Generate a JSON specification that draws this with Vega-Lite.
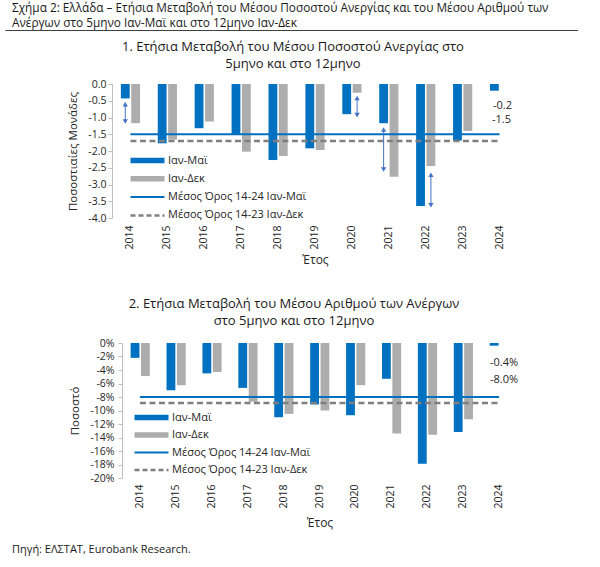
{
  "$schema": "https://vega.github.io/schema/vega-lite/v6.json",
  "background": "white",
  "padding": {"left": 5, "top": 0, "right": 0, "bottom": 0},
  "autosize": {"type": "pad"},
  "spacing": 0,
  "config": {
    "view": {"stroke": null},
    "font": "Open Sans",
    "axis": {"labelFont": "Open Sans", "titleFont": "Open Sans", "labelColor": "#262626", "titleColor": "#262626", "titleFontWeight": "normal", "grid": false},
    "title": {"font": "Open Sans"},
    "legend": {"labelFont": "Open Sans"},
    "text": {"font": "Open Sans"}
  },
  "resolve": {"scale": {"color": "independent"}, "legend": {"color": "independent"}},
  "vconcat": [
    {
      "width": 573, "height": 30,
      "data": {"values": [
        {"line": 1, "text": "Σχήμα 2: Ελλάδα – Ετήσια Μεταβολή του Μέσου Ποσοστού Ανεργίας και του Μέσου Αριθμού των"},
        {"line": 2, "text": "Ανέργων στο 5μηνο Ιαν-Μαϊ και στο 12μηνο Ιαν-Δεκ"}
      ]},
      "mark": {"type": "text", "align": "left", "baseline": "middle", "fontSize": 11.8, "color": "#1a1a1a"},
      "encoding": {
        "x": {"datum": 7, "type": "quantitative", "scale": {"domain": [0, 573]}, "axis": {"domain": true, "domainColor": "#404040", "domainWidth": 1.2, "ticks": false, "labels": false, "grid": false, "title": null}},
        "y": {"field": "line", "type": "ordinal", "axis": null, "scale": {"paddingInner": 0, "paddingOuter": 0}},
        "text": {"field": "text"}
      }
    },
    {"width": 1, "height": 11, "data": {"values": []}, "mark": "point"},
    {
      "spacing": 61,
      "resolve": {"scale": {"color": "independent"}, "legend": {"color": "independent"}},
      "hconcat": [
        {"width": 1, "height": 1, "data": {"values": []}, "mark": "point"},
        {
          "width": 406, "height": 134,
          "title": {"text": ["1. Ετήσια Μεταβολή του Μέσου Ποσοστού Ανεργίας στο", "5μηνο και στο 12μηνο"], "fontSize": 13, "fontWeight": "normal", "lineHeight": 17, "anchor": "middle", "frame": "bounds", "offset": 8, "color": "#1a1a1a"},
          "encoding": {
            "x": {"field": "year", "type": "nominal", "scale": {"domain": ["2014","2015","2016","2017","2018","2019","2020","2021","2022","2023","2024"], "paddingInner": 0.48, "paddingOuter": 0.24},
                  "axis": {"orient": "bottom", "domain": false, "ticks": false, "tickSize": 0, "labelAngle": -90, "labelPadding": 7, "labelFontSize": 10.5, "title": "Έτος", "titleFontSize": 12, "titlePadding": 5}},
            "y": {"type": "quantitative", "scale": {"domain": [-4, 0], "nice": false},
                  "axis": {"values": [-4, -3.5, -3, -2.5, -2, -1.5, -1, -0.5, 0], "labelExpr": "replace(format(datum.value, '.1f'), '−', '-')", "labelFontSize": 10.5, "labelPadding": 2, "tickSize": 4, "tickColor": "#bfbfbf", "domainColor": "#bfbfbf", "title": "Ποσοστιαίες Μονάδες", "titleFontSize": 11.5, "titlePadding": 9}}
          },
          "layer": [
            {
              "data": {"values": [
                {"year":"2014","series":"Ιαν-Μαϊ","value":-0.43},{"year":"2014","series":"Ιαν-Δεκ","value":-1.17},
                {"year":"2015","series":"Ιαν-Μαϊ","value":-1.77},{"year":"2015","series":"Ιαν-Δεκ","value":-1.66},
                {"year":"2016","series":"Ιαν-Μαϊ","value":-1.32},{"year":"2016","series":"Ιαν-Δεκ","value":-1.12},
                {"year":"2017","series":"Ιαν-Μαϊ","value":-1.52},{"year":"2017","series":"Ιαν-Δεκ","value":-2.02},
                {"year":"2018","series":"Ιαν-Μαϊ","value":-2.27},{"year":"2018","series":"Ιαν-Δεκ","value":-2.15},
                {"year":"2019","series":"Ιαν-Μαϊ","value":-1.92},{"year":"2019","series":"Ιαν-Δεκ","value":-1.97},
                {"year":"2020","series":"Ιαν-Μαϊ","value":-0.9},{"year":"2020","series":"Ιαν-Δεκ","value":-0.26},
                {"year":"2021","series":"Ιαν-Μαϊ","value":-1.17},{"year":"2021","series":"Ιαν-Δεκ","value":-2.77},
                {"year":"2022","series":"Ιαν-Μαϊ","value":-3.64},{"year":"2022","series":"Ιαν-Δεκ","value":-2.45},
                {"year":"2023","series":"Ιαν-Μαϊ","value":-1.69},{"year":"2023","series":"Ιαν-Δεκ","value":-1.4},
                {"year":"2024","series":"Ιαν-Μαϊ","value":-0.2}
              ]},
              "mark": {"type": "bar"},
              "encoding": {
                "xOffset": {"field": "series", "type": "nominal", "scale": {"domain": ["Ιαν-Μαϊ", "Ιαν-Δεκ"], "paddingInner": 0.15}},
                "y": {"field": "value"},
                "color": {"field": "series", "type": "nominal",
                  "scale": {"domain": ["Ιαν-Μαϊ", "Ιαν-Δεκ", "Μέσος Όρος 14-24 Ιαν-Μαϊ", "Μέσος Όρος 14-23 Ιαν-Δεκ"], "range": ["#0070c0", "#adadad", "#0070c0", "#7f7f7f"]},
                  "legend": {"orient": "none", "legendX": 18, "legendY": 71, "title": null, "labelFontSize": 11, "labelColor": "#262626", "symbolType": "M-1,0H5.8", "symbolSize": 100, "labelOffset": 27, "clipHeight": 11, "rowPadding": 6.3, "labelLimit": 400, "direction": "vertical",
                    "encode": {"symbols": {"update": {
                      "shape": {"value": "M-1,0H5.8"},
                      "fill": {"value": "transparent"},
                      "stroke": {"signal": "datum.value === 'Ιαν-Δεκ' ? '#adadad' : datum.value === 'Μέσος Όρος 14-23 Ιαν-Δεκ' ? '#7f7f7f' : '#0070c0'"},
                      "strokeWidth": {"signal": "(datum.value === 'Ιαν-Μαϊ' || datum.value === 'Ιαν-Δεκ') ? 5.5 : (datum.value === 'Μέσος Όρος 14-23 Ιαν-Δεκ' ? 2.5 : 2)"},
                      "strokeDash": {"signal": "datum.value === 'Μέσος Όρος 14-23 Ιαν-Δεκ' ? [5, 3] : [1, 0]"},
                      "opacity": {"value": 1}
                    }}}}
                }
              }
            },
            {
              "data": {"values": [{"base": 0}]},
              "mark": {"type": "rule", "color": "#bfbfbf", "strokeWidth": 1},
              "encoding": {"y": {"field": "base"}}
            },
            {
              "data": {"values": [
                {"year": "2014", "series": "Μέσος Όρος 14-24 Ιαν-Μαϊ", "avg": -1.5},
                {"year": "2024", "series": "Μέσος Όρος 14-24 Ιαν-Μαϊ", "avg": -1.5}
              ]},
              "mark": {"type": "line", "strokeWidth": 2},
              "encoding": {"y": {"field": "avg"}, "color": {"field": "series", "type": "nominal"}}
            },
            {
              "data": {"values": [
                {"year": "2014", "series": "Μέσος Όρος 14-23 Ιαν-Δεκ", "avg": -1.7},
                {"year": "2024", "series": "Μέσος Όρος 14-23 Ιαν-Δεκ", "avg": -1.7}
              ]},
              "mark": {"type": "line", "strokeWidth": 2.5, "strokeDash": [6, 3.5]},
              "encoding": {"y": {"field": "avg"}, "color": {"field": "series", "type": "nominal"}}
            },
            {
              "data": {"values": [
                {"year": "2014", "series": "Ιαν-Μαϊ", "from": -0.6, "to": -1.12},
                {"year": "2020", "series": "Ιαν-Δεκ", "from": -0.42, "to": -0.93},
                {"year": "2021", "series": "Ιαν-Μαϊ", "from": -1.36, "to": -2.55},
                {"year": "2022", "series": "Ιαν-Δεκ", "from": -2.71, "to": -3.62}
              ]},
              "layer": [
                {"mark": {"type": "rule", "color": "#4472c4", "strokeWidth": 1},
                 "encoding": {"xOffset": {"field": "series", "type": "nominal"}, "y": {"field": "from"}, "y2": {"field": "to"}}},
                {"mark": {"type": "point", "shape": "triangle-up", "filled": true, "size": 28, "color": "#4472c4", "opacity": 1},
                 "encoding": {"xOffset": {"field": "series", "type": "nominal"}, "y": {"field": "from"}}},
                {"mark": {"type": "point", "shape": "triangle-down", "filled": true, "size": 28, "color": "#4472c4", "opacity": 1},
                 "encoding": {"xOffset": {"field": "series", "type": "nominal"}, "y": {"field": "to"}}}
              ]
            },
            {
              "data": {"values": [{"year": "2024", "value": -0.2, "label": "-0.2"}]},
              "mark": {"type": "text", "fontSize": 11, "color": "#262626", "dx": 3, "dy": 15},
              "encoding": {"y": {"field": "value"}, "text": {"field": "label"}}
            },
            {
              "data": {"values": [{"year": "2024", "value": -1.5, "label": "-1.5"}]},
              "mark": {"type": "text", "fontSize": 11, "color": "#262626", "dx": 2, "dy": -14},
              "encoding": {"y": {"field": "value"}, "text": {"field": "label"}}
            }
          ]
        }
      ]
    },
    {"width": 1, "height": 31, "data": {"values": []}, "mark": "point"},
    {
      "spacing": 63,
      "resolve": {"scale": {"color": "independent"}, "legend": {"color": "independent"}},
      "hconcat": [
        {"width": 1, "height": 1, "data": {"values": []}, "mark": "point"},
        {
          "width": 395, "height": 135,
          "title": {"text": ["2. Ετήσια Μεταβολή του Μέσου Αριθμού των Ανέργων", "στο 5μηνο και στο 12μηνο"], "fontSize": 13, "fontWeight": "normal", "lineHeight": 17.5, "anchor": "middle", "frame": "bounds", "offset": 10, "color": "#1a1a1a"},
          "encoding": {
            "x": {"field": "year", "type": "nominal", "scale": {"domain": ["2014","2015","2016","2017","2018","2019","2020","2021","2022","2023","2024"], "paddingInner": 0.48, "paddingOuter": 0.24},
                  "axis": {"orient": "bottom", "domain": false, "ticks": false, "tickSize": 0, "labelAngle": -90, "labelPadding": 6, "labelFontSize": 10.5, "title": "Έτος", "titleFontSize": 12, "titlePadding": 9}},
            "y": {"type": "quantitative", "scale": {"domain": [-20, 0], "nice": false},
                  "axis": {"values": [-20, -18, -16, -14, -12, -10, -8, -6, -4, -2, 0], "labelExpr": "datum.value + '%'", "labelFontSize": 10.5, "labelPadding": 4, "tickSize": 4, "tickColor": "#bfbfbf", "domainColor": "#bfbfbf", "title": "Ποσοστό", "titleFontSize": 11.5, "titlePadding": 9}}
          },
          "layer": [
            {
              "data": {"values": [
                {"year":"2014","series":"Ιαν-Μαϊ","value":-2.2},{"year":"2014","series":"Ιαν-Δεκ","value":-4.9},
                {"year":"2015","series":"Ιαν-Μαϊ","value":-7.0},{"year":"2015","series":"Ιαν-Δεκ","value":-6.25},
                {"year":"2016","series":"Ιαν-Μαϊ","value":-4.5},{"year":"2016","series":"Ιαν-Δεκ","value":-4.3},
                {"year":"2017","series":"Ιαν-Μαϊ","value":-6.65},{"year":"2017","series":"Ιαν-Δεκ","value":-8.7},
                {"year":"2018","series":"Ιαν-Μαϊ","value":-11.0},{"year":"2018","series":"Ιαν-Δεκ","value":-10.5},
                {"year":"2019","series":"Ιαν-Μαϊ","value":-9.1},{"year":"2019","series":"Ιαν-Δεκ","value":-10.0},
                {"year":"2020","series":"Ιαν-Μαϊ","value":-10.7},{"year":"2020","series":"Ιαν-Δεκ","value":-6.25},
                {"year":"2021","series":"Ιαν-Μαϊ","value":-5.3},{"year":"2021","series":"Ιαν-Δεκ","value":-13.4},
                {"year":"2022","series":"Ιαν-Μαϊ","value":-17.9},{"year":"2022","series":"Ιαν-Δεκ","value":-13.6},
                {"year":"2023","series":"Ιαν-Μαϊ","value":-13.2},{"year":"2023","series":"Ιαν-Δεκ","value":-11.3},
                {"year":"2024","series":"Ιαν-Μαϊ","value":-0.4}
              ]},
              "mark": {"type": "bar"},
              "encoding": {
                "xOffset": {"field": "series", "type": "nominal", "scale": {"domain": ["Ιαν-Μαϊ", "Ιαν-Δεκ"], "paddingInner": 0.15}},
                "y": {"field": "value"},
                "color": {"field": "series", "type": "nominal",
                  "scale": {"domain": ["Ιαν-Μαϊ", "Ιαν-Δεκ", "Μέσος Όρος 14-24 Ιαν-Μαϊ", "Μέσος Όρος 14-23 Ιαν-Δεκ"], "range": ["#0070c0", "#adadad", "#0070c0", "#7f7f7f"]},
                  "legend": {"orient": "none", "legendX": 12, "legendY": 69, "title": null, "labelFontSize": 11, "labelColor": "#262626", "symbolType": "M-1,0H5.8", "symbolSize": 100, "labelOffset": 27, "clipHeight": 11, "rowPadding": 5.5, "labelLimit": 400, "direction": "vertical",
                    "encode": {"symbols": {"update": {
                      "shape": {"value": "M-1,0H5.8"},
                      "fill": {"value": "transparent"},
                      "stroke": {"signal": "datum.value === 'Ιαν-Δεκ' ? '#adadad' : datum.value === 'Μέσος Όρος 14-23 Ιαν-Δεκ' ? '#7f7f7f' : '#0070c0'"},
                      "strokeWidth": {"signal": "(datum.value === 'Ιαν-Μαϊ' || datum.value === 'Ιαν-Δεκ') ? 5.5 : (datum.value === 'Μέσος Όρος 14-23 Ιαν-Δεκ' ? 2.5 : 2)"},
                      "strokeDash": {"signal": "datum.value === 'Μέσος Όρος 14-23 Ιαν-Δεκ' ? [5, 3] : [1, 0]"},
                      "opacity": {"value": 1}
                    }}}}
                }
              }
            },
            {
              "data": {"values": [{"base": 0}]},
              "mark": {"type": "rule", "color": "#bfbfbf", "strokeWidth": 1},
              "encoding": {"y": {"field": "base"}}
            },
            {
              "data": {"values": [
                {"year": "2014", "series": "Μέσος Όρος 14-24 Ιαν-Μαϊ", "avg": -8.0},
                {"year": "2024", "series": "Μέσος Όρος 14-24 Ιαν-Μαϊ", "avg": -8.0}
              ]},
              "mark": {"type": "line", "strokeWidth": 2},
              "encoding": {"y": {"field": "avg"}, "color": {"field": "series", "type": "nominal"}}
            },
            {
              "data": {"values": [
                {"year": "2014", "series": "Μέσος Όρος 14-23 Ιαν-Δεκ", "avg": -8.9},
                {"year": "2024", "series": "Μέσος Όρος 14-23 Ιαν-Δεκ", "avg": -8.9}
              ]},
              "mark": {"type": "line", "strokeWidth": 2.5, "strokeDash": [6, 3.5]},
              "encoding": {"y": {"field": "avg"}, "color": {"field": "series", "type": "nominal"}}
            },
            {
              "data": {"values": [{"year": "2024", "value": -0.4, "label": "-0.4%"}]},
              "mark": {"type": "text", "fontSize": 11, "color": "#262626", "dx": 5, "dy": 17},
              "encoding": {"y": {"field": "value"}, "text": {"field": "label"}}
            },
            {
              "data": {"values": [{"year": "2024", "value": -8.0, "label": "-8.0%"}]},
              "mark": {"type": "text", "fontSize": 11, "color": "#262626", "dx": 5, "dy": -17},
              "encoding": {"y": {"field": "value"}, "text": {"field": "label"}}
            }
          ]
        }
      ]
    },
    {"width": 1, "height": 15, "data": {"values": []}, "mark": "point"},
    {
      "width": 573, "height": 12,
      "data": {"values": [{"text": "Πηγή: ΕΛΣΤΑΤ, Eurobank Research."}]},
      "mark": {"type": "text", "align": "left", "baseline": "middle", "fontSize": 11, "color": "#1a1a1a"},
      "encoding": {
        "x": {"datum": 7, "type": "quantitative", "scale": {"domain": [0, 573]}, "axis": {"domain": true, "domainColor": "#404040", "domainWidth": 1.2, "ticks": false, "labels": false, "grid": false, "title": null}},
        "text": {"field": "text"}
      }
    }
  ]
}
